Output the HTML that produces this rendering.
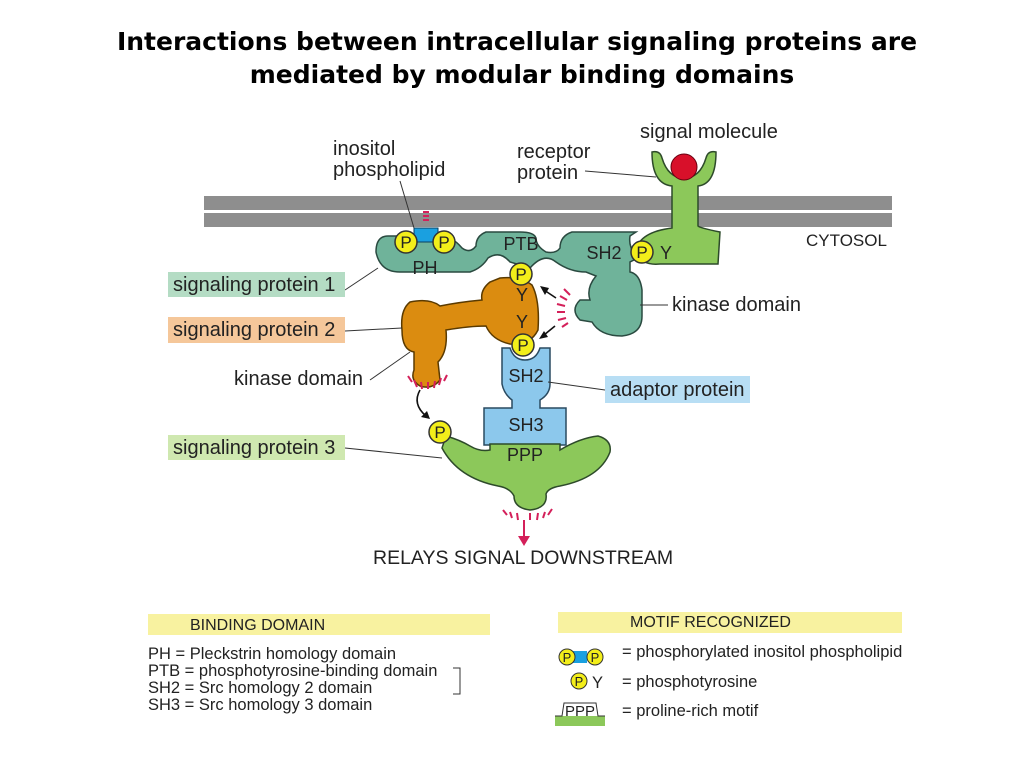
<!DOCTYPE html>
<html><head><meta charset="utf-8"><style>
body{margin:0;background:#fff;width:1024px;height:768px;overflow:hidden}
svg{display:block}
.t{font-family:"Liberation Sans",sans-serif;fill:#222}
</style></head><body>
<svg width="1024" height="768" viewBox="0 0 1024 768" xmlns="http://www.w3.org/2000/svg">
<text x="517" y="50" text-anchor="middle" font-family="DejaVu Sans,sans-serif" font-weight="bold" font-size="25" fill="#000">Interactions between intracellular signaling proteins are</text>
<text x="522" y="83" text-anchor="middle" font-family="DejaVu Sans,sans-serif" font-weight="bold" font-size="25" fill="#000">mediated by modular binding domains</text>

<rect x="204" y="196" width="688" height="14" fill="#8e8e8e"/>
<rect x="204" y="213" width="688" height="14" fill="#8e8e8e"/>

<path d="M652,152 Q652,184 672,186 L672,228 Q640,232 636,250 Q640,266 660,264 L718,264 L720,232 Q700,228 698,226 L698,186 Q716,184 716,152 Q708,150 706,158 Q700,178 684,178 Q668,178 662,158 Q660,150 652,152Z" fill="#8cc85a" stroke="#2d4a2a" stroke-width="1.5"/>
<circle cx="684" cy="167" r="13" fill="#d8102a" stroke="#6a0010"/>

<path d="M388,236 Q376,236 376,252 Q380,272 400,272 L470,272 Q482,268 488,258 Q500,250 510,262 L530,268 Q544,252 556,262 Q570,272 586,272 L596,276 Q586,288 590,300 L580,300 Q570,310 580,320 L592,322 Q600,336 622,336 Q642,334 642,316 L642,290 Q640,274 630,272 L630,262 L638,258 Q628,248 630,236 L636,232 L572,232 Q560,236 560,248 Q556,254 546,252 Q536,246 536,238 Q534,232 520,232 L486,232 Q476,236 476,246 Q470,254 462,248 Q452,236 440,236Z" fill="#6fb39a" stroke="#2a4a40" stroke-width="1.5"/>
<rect x="414" y="228" width="24" height="14" fill="#1aa0e0" stroke="#0a4060"/>
<circle cx="406" cy="242" r="11" fill="#f3ee1a" stroke="#333" stroke-width="1.5"/>
<circle cx="444" cy="242" r="11" fill="#f3ee1a" stroke="#333" stroke-width="1.5"/>
<text class="t" x="406" y="248" text-anchor="middle" font-size="17">P</text>
<text class="t" x="444" y="248" text-anchor="middle" font-size="17">P</text>
<text class="t" x="425" y="274" text-anchor="middle" font-size="18">PH</text>
<text class="t" x="521" y="250" text-anchor="middle" font-size="18">PTB</text>
<text class="t" x="604" y="259" text-anchor="middle" font-size="18">SH2</text>
<circle cx="642" cy="252" r="11" fill="#f3ee1a" stroke="#333" stroke-width="1.5"/>
<text class="t" x="642" y="258" text-anchor="middle" font-size="17">P</text>
<text class="t" x="666" y="259" text-anchor="middle" font-size="18">Y</text>

<path d="M490,282 Q480,290 482,300 Q460,302 440,306 Q430,298 410,302 Q400,310 402,330 Q402,350 414,352 L414,370 Q410,380 420,386 Q432,390 440,380 L438,362 Q448,352 446,330 Q470,326 486,326 Q492,340 510,344 Q530,346 538,330 Q540,300 532,285 Q520,276 500,278Z" fill="#db8c10" stroke="#5a3a00" stroke-width="1.5"/>
<circle cx="521" cy="274" r="11" fill="#f3ee1a" stroke="#333" stroke-width="1.5"/>
<text class="t" x="521" y="280" text-anchor="middle" font-size="17">P</text>
<text class="t" x="522" y="301" text-anchor="middle" font-size="18">Y</text>
<text class="t" x="522" y="328" text-anchor="middle" font-size="18">Y</text>

<path d="M502,348 L502,384 Q504,394 512,400 L512,408 L484,408 L484,445 L566,445 L566,408 L540,408 L540,400 Q550,394 550,384 L550,348 L540,348 Q536,360 525,360 Q514,360 510,348Z" fill="#8cc8ec" stroke="#2a4a60" stroke-width="1.5"/>
<circle cx="523" cy="345" r="11" fill="#f3ee1a" stroke="#333" stroke-width="1.5"/>
<text class="t" x="523" y="351" text-anchor="middle" font-size="17">P</text>
<text class="t" x="526" y="382" text-anchor="middle" font-size="18">SH2</text>
<text class="t" x="526" y="431" text-anchor="middle" font-size="18">SH3</text>

<path d="M446,436 Q460,440 470,446 Q480,452 490,450 L490,444 L560,444 L560,450 Q580,438 598,436 Q612,440 610,452 Q600,478 560,486 Q548,488 546,494 Q548,508 530,510 Q514,508 514,496 Q510,488 498,486 Q458,478 442,448Z" fill="#8cc85a" stroke="#2d4a2a" stroke-width="1.5"/>
<circle cx="440" cy="432" r="11" fill="#f3ee1a" stroke="#333" stroke-width="1.5"/>
<text class="t" x="440" y="438" text-anchor="middle" font-size="17">P</text>
<text class="t" x="525" y="461" text-anchor="middle" font-size="18">PPP</text>

<g stroke="#d4205a" stroke-width="2">
<line x1="564" y1="289" x2="570" y2="295"/><line x1="560" y1="296" x2="567" y2="300"/><line x1="557" y1="304" x2="565" y2="306"/><line x1="557" y1="312" x2="565" y2="312"/><line x1="558" y1="320" x2="566" y2="318"/><line x1="562" y1="327" x2="568" y2="323"/>
<line x1="408" y1="376" x2="412" y2="382"/><line x1="414" y1="380" x2="417" y2="387"/><line x1="421" y1="382" x2="422" y2="389"/><line x1="428" y1="382" x2="428" y2="389"/><line x1="435" y1="381" x2="434" y2="388"/><line x1="441" y1="378" x2="439" y2="385"/><line x1="447" y1="375" x2="444" y2="381"/>
<line x1="503" y1="510" x2="507" y2="515"/><line x1="510" y1="512" x2="512" y2="518"/><line x1="517" y1="513" x2="518" y2="520"/><line x1="530" y1="513" x2="530" y2="520"/><line x1="538" y1="513" x2="537" y2="520"/><line x1="545" y1="512" x2="543" y2="518"/><line x1="552" y1="509" x2="548" y2="515"/>
<line x1="423" y1="212" x2="429" y2="212"/><line x1="423" y1="216" x2="429" y2="216"/><line x1="423" y1="220" x2="429" y2="220"/>
<line x1="524" y1="520" x2="524" y2="538"/>
</g>
<polygon points="518,536 530,536 524,546" fill="#d4205a"/>
<g stroke="#111" stroke-width="1.6" fill="none">
<line x1="556" y1="298" x2="544" y2="290"/><line x1="555" y1="326" x2="544" y2="335"/>
<path d="M420,390 Q412,404 426,416"/>
</g>
<polygon points="540,286 549,288 545,295" fill="#111"/>
<polygon points="539,339 548,337 544,331" fill="#111"/>
<polygon points="430,419 421,417 427,411" fill="#111"/>

<g stroke="#333" stroke-width="1" fill="none">
<line x1="400" y1="181" x2="414" y2="228"/>
<line x1="585" y1="171" x2="656" y2="177"/>
<line x1="345" y1="290" x2="378" y2="268"/>
<line x1="345" y1="331" x2="402" y2="328"/>
<line x1="370" y1="380" x2="410" y2="352"/>
<line x1="640" y1="305" x2="668" y2="305"/>
<line x1="548" y1="382" x2="605" y2="390"/>
<line x1="345" y1="448" x2="442" y2="458"/>
</g>

<text class="t" x="333" y="155" font-size="20">inositol</text>
<text class="t" x="333" y="176" font-size="20">phospholipid</text>
<text class="t" x="517" y="158" font-size="20">receptor</text>
<text class="t" x="517" y="179" font-size="20">protein</text>
<text class="t" x="640" y="138" font-size="20">signal molecule</text>
<text class="t" x="806" y="246" font-size="17">CYTOSOL</text>
<rect x="168" y="272" width="177" height="25" fill="#b4dcc4"/>
<text class="t" x="173" y="291" font-size="20">signaling protein 1</text>
<rect x="168" y="317" width="177" height="26" fill="#f5c79a"/>
<text class="t" x="173" y="336" font-size="20">signaling protein 2</text>
<text class="t" x="672" y="311" font-size="20">kinase domain</text>
<text class="t" x="234" y="385" font-size="20">kinase domain</text>
<rect x="605" y="376" width="145" height="27" fill="#b8def4"/>
<text class="t" x="610" y="396" font-size="20">adaptor protein</text>
<rect x="168" y="435" width="177" height="25" fill="#cfe8b0"/>
<text class="t" x="173" y="454" font-size="20">signaling protein 3</text>
<text class="t" x="373" y="564" font-size="19.5">RELAYS SIGNAL DOWNSTREAM</text>

<rect x="148" y="614" width="342" height="21" fill="#f8f2a0"/>
<text class="t" x="190" y="630" font-size="16">BINDING DOMAIN</text>
<text class="t" x="148" y="659" font-size="16.5">PH = Pleckstrin homology domain</text>
<text class="t" x="148" y="676" font-size="16.5">PTB = phosphotyrosine-binding domain</text>
<text class="t" x="148" y="693" font-size="16.5">SH2 = Src homology 2 domain</text>
<text class="t" x="148" y="710" font-size="16.5">SH3 = Src homology 3 domain</text>
<path d="M453,668 L460,668 L460,694 L453,694" stroke="#333" fill="none"/>
<rect x="558" y="612" width="344" height="21" fill="#f8f2a0"/>
<text class="t" x="630" y="627" font-size="16">MOTIF RECOGNIZED</text>
<rect x="569" y="651" width="18" height="12" fill="#1aa0e0"/>
<circle cx="567" cy="657" r="8" fill="#f3ee1a" stroke="#333"/>
<circle cx="595" cy="657" r="8" fill="#f3ee1a" stroke="#333"/>
<text class="t" x="567" y="662" text-anchor="middle" font-size="13">P</text>
<text class="t" x="595" y="662" text-anchor="middle" font-size="13">P</text>
<text class="t" x="622" y="657" font-size="16.5">= phosphorylated inositol phospholipid</text>
<circle cx="579" cy="681" r="8" fill="#f3ee1a" stroke="#333"/>
<text class="t" x="579" y="686" text-anchor="middle" font-size="13">P</text>
<text class="t" x="592" y="688" font-size="16.5">Y</text>
<text class="t" x="622" y="687" font-size="16.5">= phosphotyrosine</text>
<rect x="555" y="716" width="50" height="10" fill="#8cc85a"/>
<path d="M555,716 L562,716 L564,703 L596,703 L598,716 L605,716" stroke="#333" fill="none"/>
<text class="t" x="580" y="716" text-anchor="middle" font-size="15">PPP</text>
<text class="t" x="622" y="716" font-size="16.5">= proline-rich motif</text>
</svg>
</body></html>
